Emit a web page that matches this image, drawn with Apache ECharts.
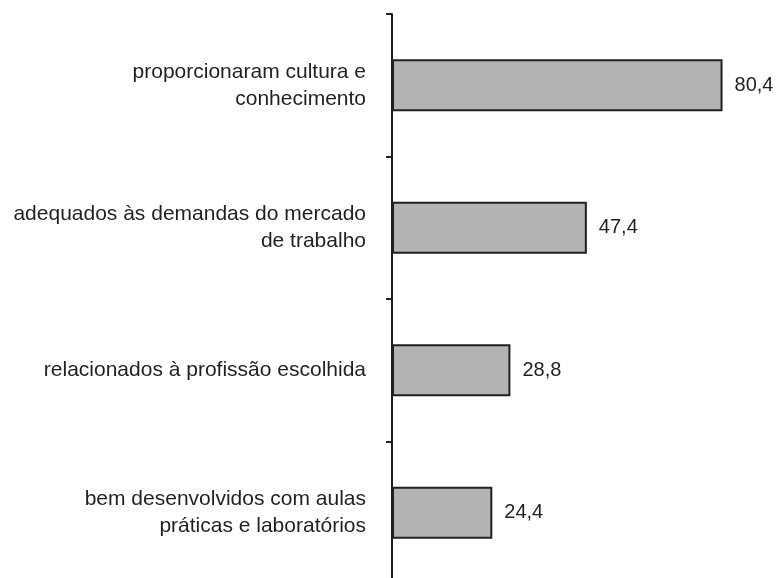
<!DOCTYPE html>
<html>
<head>
<meta charset="utf-8">
<script src="https://cdn.jsdelivr.net/npm/echarts@6/dist/echarts.min.js"></script>
<style>
  html, body { margin: 0; padding: 0; background: #fff; }
  #main { width: 779px; height: 578px; }
</style>
</head>
<body>
<div id="main"></div>
<script>
  // dados
  var categorias = [
    'proporcionaram cultura e\nconhecimento',
    'adequados às demandas do mercado\nde trabalho',
    'relacionados à profissão escolhida',
    'bem desenvolvidos com aulas\npráticas e laboratórios'
  ];
  var valores = [80.4, 47.4, 28.8, 24.4];

  var chart = echarts.init(document.getElementById('main'));

  var option = {
    animation: false,
    backgroundColor: '#ffffff',
    grid: {
      left: 392,
      top: 14,
      width: 370,
      height: 570,
      outerBoundsMode: 'none'
    },
    xAxis: {
      type: 'value',
      min: 0,
      max: 90,
      show: false
    },
    yAxis: {
      type: 'category',
      inverse: true,
      data: categorias,
      axisLine: {
        show: true,
        lineStyle: { color: '#231f20', width: 2 }
      },
      axisTick: {
        show: true,
        length: 6,
        lineStyle: { color: '#231f20', width: 2 }
      },
      axisLabel: {
        margin: 26,
        color: '#231f20',
        fontFamily: 'Liberation Sans',
        fontSize: 21,
        lineHeight: 27,
        align: 'right'
      }
    },
    series: [{
      type: 'bar',
      data: valores,
      barWidth: 52,
      itemStyle: {
        color: '#b3b3b3',
        borderColor: '#231f20',
        borderWidth: 2
      },
      label: {
        show: true,
        position: 'right',
        distance: 12,
        color: '#231f20',
        fontFamily: 'Liberation Sans',
        fontSize: 20,
        formatter: function (p) {
          return p.value.toFixed(1).replace('.', ',');
        }
      }
    }]
  };
  chart.setOption(option);
</script>
</body>
</html>
